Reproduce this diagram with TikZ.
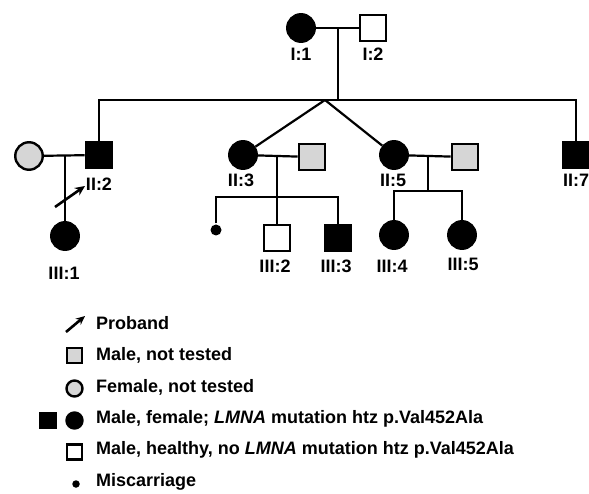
\documentclass[tikz,border=0pt]{standalone}
\usepackage{fontspec}
\setmainfont{Liberation Sans}
\usetikzlibrary{arrows.meta}
\tikzset{
  male/.style={draw, line width=2.4pt, minimum size=26.5pt, inner sep=0pt},
  female/.style={draw, circle, line width=2.4pt, minimum size=27.5pt, inner sep=0pt},
  lbl/.style={font=\bfseries\fontsize{18}{18}\selectfont, inner sep=0pt},
  txt/.style={font=\bfseries\fontsize{18}{18}\selectfont, anchor=west, inner sep=0pt},
  nt/.style={fill=black!16},
  mut/.style={fill=black}
}
\begin{document}
\begin{tikzpicture}[x=1pt,y=-1pt,line width=2.2pt]
\useasboundingbox (0,0) rectangle (589,494);
% generation I
\node[female, mut] (I1) at (301,28) {};
\node[male] (I2) at (373,28) {};
\node[lbl] (l11) at (301,54) {I:1};
\node[lbl] (l12) at (373,54) {I:2};
\coordinate (m1) at (338,28);
\coordinate (s1) at (338,100);
\path[draw] (I1) -- (I2);
\path[draw] (m1) -- (s1);
% generation II
\node[female, nt] (II1) at (29,156) {};
\node[male, mut] (II2) at (99,155) {};
\node[female, mut] (II3) at (243,155) {};
\node[male, nt] (II4) at (312,157) {};
\node[female, mut] (II5) at (394,155) {};
\node[male, nt] (II6) at (465,157) {};
\node[male, mut] (II7) at (576,155) {};
\node[lbl] (l22) at (99,184) {II:2};
\node[lbl] (l23) at (241,180) {II:3};
\node[lbl] (l25) at (393,180) {II:5};
\node[lbl] (l27) at (576,180) {II:7};
\coordinate (s2) at (99,100);
\coordinate (s7) at (576,100);
\coordinate (tw) at (325,100);
\path[draw] (II2) -- (s2) -- (s7) -- (II7);
\path[draw] (tw) -- (II3);
\path[draw] (tw) -- (II5);
\path[draw] (II1) -- (II2);
\path[draw] (II3) -- (II4);
\path[draw] (II5) -- (II6);
% generation III
\node[female, mut] (III1) at (65,236) {};
\node[circle, fill=black, minimum size=11pt, inner sep=0pt] (mc) at (216,230) {};
\node[male] (III2) at (277,238) {};
\node[male, mut] (III3) at (338,238) {};
\node[female, mut] (III4) at (394,235) {};
\node[female, mut] (III5) at (462,235) {};
\node[lbl] (l31) at (64,273) {III:1};
\node[lbl] (l32) at (275,266) {III:2};
\node[lbl] (l33) at (336,266) {III:3};
\node[lbl] (l34) at (392,266) {III:4};
\node[lbl] (l35) at (463,264) {III:5};
\coordinate (m2) at (65,156);
\coordinate (m3) at (277,155);
\coordinate (a3) at (216,197);
\coordinate (b3) at (338,197);
\coordinate (m4) at (428,155);
\coordinate (c4) at (428,191);
\coordinate (a4) at (394,191);
\coordinate (b4) at (462,191);
\path[draw] (m2) -- (III1);
\path[draw] (m3) -- (III2);
\path[draw] (mc) -- (a3) -- (b3) -- (III3);
\path[draw] (m4) -- (c4);
\path[draw] (III4) -- (a4) -- (b4) -- (III5);
% proband
\coordinate (pb) at (55,207);
\coordinate (pa) at (85,186);
\path[draw, line width=2.6pt, -{Stealth[length=10pt,width=9pt]}] (pb) -- (pa);
% legend
\coordinate (kb) at (66,332);
\coordinate (ka) at (85,316);
\path[draw, line width=2.6pt, -{Stealth[length=9pt,width=8pt]}] (kb) -- (ka);
\node[male, nt, minimum size=15pt] (k2) at (74.5,355.5) {};
\node[female, nt, minimum size=16pt] (k3) at (74.5,388.5) {};
\node[male, mut, minimum size=15pt] (k4a) at (48,420.5) {};
\node[female, mut, minimum size=16pt] (k4b) at (74.5,420.5) {};
\node[male, minimum size=15pt] (k5) at (74.5,452) {};
\node[circle, fill=black, minimum size=7.5pt, inner sep=0pt] (k6) at (76,484) {};
\node[txt] (t1) at (95,323) {Proband};
\node[txt] (t2) at (95,355) {Male, not tested};
\node[txt] (t3) at (95,387) {Female, not tested};
\node[txt] (t4) at (95,419) {Male, female; \textit{LMNA} mutation htz p.Val452Ala};
\node[txt] (t5) at (95,450) {Male, healthy, no \textit{LMNA} mutation htz p.Val452Ala};
\node[txt] (t6) at (95,482) {Miscarriage};
\end{tikzpicture}
\end{document}
